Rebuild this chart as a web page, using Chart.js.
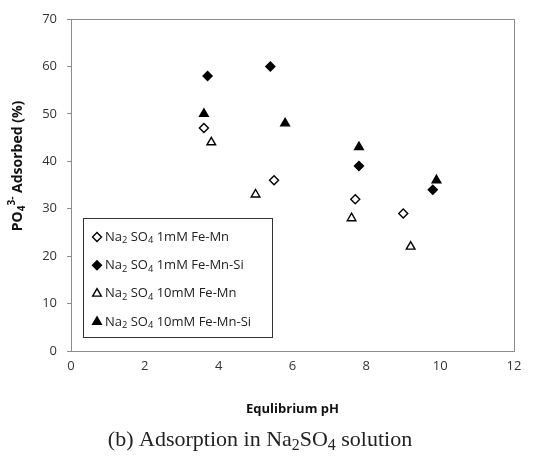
<!DOCTYPE html>
<html>
<head>
<meta charset="utf-8">
<script src="https://cdn.jsdelivr.net/npm/chart.js@4/dist/chart.umd.min.js"></script>
<style>
html,body{margin:0;padding:0;background:#fff;}
#wrap{width:533px;height:463px;position:relative;}
</style>
</head>
<body>
<div id="wrap"><canvas id="c" width="533" height="463"></canvas></div>
<script>
// series names (shown after "Na2 SO4" in the legend)
const seriesNames=['1mM Fe-Mn','1mM Fe-Mn-Si','10mM Fe-Mn','10mM Fe-Mn-Si']
// equilibrium pH (x) and PO4 adsorbed % (y) for each series
const phFeMn1=[3.6,5.5,7.7,9.0]
const adsFeMn1=[47,36,32,29]
const phFeMnSi1=[3.7,5.4,7.8,9.8]
const adsFeMnSi1=[58,60,39,34]
const phFeMn10=[3.8,5.0,7.6,9.2]
const adsFeMn10=[44,33,28,22]
const phFeMnSi10=[3.6,5.8,7.8,9.9]
const adsFeMnSi10=[50,48,43,36]
const xTicks=[0,2,4,6,8,10,12]
const yTicks=[0,10,20,30,40,50,60,70]

const markers=[
  {style:'rectRot',fill:'#fff'},
  {style:'rectRot',fill:'#000'},
  {style:'triangle',fill:'#fff'},
  {style:'triangle',fill:'#000'}
]
const pairs=[[phFeMn1,adsFeMn1],[phFeMnSi1,adsFeMnSi1],[phFeMn10,adsFeMn10],[phFeMnSi10,adsFeMnSi10]]

const datasets=pairs.map((p,i)=>({
  label:'Na2SO4 '+seriesNames[i],
  data:p[0].map((x,j)=>({x:x,y:p[1][j]})),
  pointStyle:markers[i].style,
  backgroundColor:markers[i].fill,
  borderColor:'#000',
  borderWidth:1.4,
  pointRadius:markers[i].style=='triangle'?5:4.5,
  showLine:false
}))

// draws text pieces, some as sub/superscript
function drawRich(ctx,parts,x,y,size,weight,family){
  let cx=x
  parts.forEach(p=>{
    let s=size,dy=0
    if(p.sub){s=size*0.72;dy=size*0.28}
    if(p.sup){s=size*0.72;dy=-size*0.42}
    ctx.font=weight+' '+s+'px '+family
    ctx.fillText(p.t,cx,y+dy)
    cx+=ctx.measureText(p.t).width
  })
  return cx-x
}
function richWidth(ctx,parts,size,weight,family){
  let w=0
  parts.forEach(p=>{
    let s=(p.sub||p.sup)?size*0.72:size
    ctx.font=weight+' '+s+'px '+family
    w+=ctx.measureText(p.t).width
  })
  return w
}

function drawMarker(ctx,m,x,y){
  ctx.save()
  ctx.beginPath()
  if(m.style=='rectRot'){
    let r=4.5
    ctx.moveTo(x,y-r);ctx.lineTo(x+r,y);ctx.lineTo(x,y+r);ctx.lineTo(x-r,y)
  }else{
    let r=5
    ctx.moveTo(x,y-r);ctx.lineTo(x+r*0.87,y+r*0.5);ctx.lineTo(x-r*0.87,y+r*0.5)
  }
  ctx.closePath()
  ctx.fillStyle=m.fill;ctx.fill()
  ctx.lineWidth=1.4;ctx.strokeStyle='#000';ctx.stroke()
  ctx.restore()
}

const extras={
  id:'extras',
  afterDraw(chart){
    const ctx=chart.ctx,a=chart.chartArea
    const fam='"Open Sans", sans-serif'
    ctx.save()
    // plot border
    ctx.strokeStyle='#8c8c8c';ctx.lineWidth=1
    ctx.strokeRect(a.left+0.5,a.top+0.5,a.right-a.left,a.bottom-a.top)
    // legend box
    const lx=a.left+12,ly=a.top+199,lw=189,lh=119
    ctx.fillStyle='#fff';ctx.fillRect(lx,ly,lw,lh)
    ctx.strokeStyle='#333';ctx.strokeRect(lx+0.5,ly+0.5,lw,lh)
    ctx.fillStyle='#222';ctx.textBaseline='middle';ctx.textAlign='left'
    seriesNames.forEach((n,i)=>{
      const yy=ly+19+i*28.3
      drawMarker(ctx,markers[i],lx+14,yy)
      drawRich(ctx,[{t:'Na'},{t:'2',sub:true},{t:' SO'},{t:'4',sub:true},{t:' '+n}],lx+22,yy,13,'normal',fam)
    })
    // x title
    ctx.fillStyle='#111';ctx.textBaseline='middle'
    ctx.font='bold 13px '+fam
    ctx.textAlign='center'
    ctx.fillText('Equlibrium pH',(a.left+a.right)/2,409)
    // y title
    ctx.save()
    ctx.translate(18,166)
    ctx.rotate(-Math.PI/2)
    ctx.textAlign='left'
    const yp=[{t:'PO'},{t:'4',sub:true},{t:'3-',sup:true},{t:' Adsorbed (%)'}]
    const w=richWidth(ctx,yp,14,'bold',fam)
    drawRich(ctx,yp,-w/2,0,14,'bold',fam)
    ctx.restore()
    // caption
    ctx.fillStyle='#222';ctx.textAlign='left'
    const cp=[{t:'(b) Adsorption in Na'},{t:'2',sub:true},{t:'SO'},{t:'4',sub:true},{t:' solution'}]
    const sf='"Liberation Serif", serif'
    const cw=richWidth(ctx,cp,22,'normal',sf)
    drawRich(ctx,cp,260-cw/2,440,22,'normal',sf)
    ctx.restore()
  }
}

new Chart(document.getElementById('c'),{
  type:'scatter',
  data:{datasets:datasets},
  options:{
    responsive:false,
    animation:false,
    layout:{padding:{left:0,top:19,right:19,bottom:82}},
    plugins:{legend:{display:false},tooltip:{enabled:false}},
    scales:{
      x:{
        min:0,max:12,
        afterBuildTicks(s){s.ticks=xTicks.map(v=>({value:v}))},
        afterFit(s){s.height=30},
        grid:{display:false,drawOnChartArea:false,drawTicks:true,tickLength:4,color:'#8c8c8c'},
        border:{display:true,color:'#8c8c8c'},
        ticks:{color:'#333',font:{family:'"Open Sans", sans-serif',size:13},padding:3,maxRotation:0}
      },
      y:{
        min:0,max:70,
        afterBuildTicks(s){s.ticks=yTicks.map(v=>({value:v}))},
        afterFit(s){s.width=71},
        grid:{display:true,drawOnChartArea:false,drawTicks:true,tickLength:4,color:'#8c8c8c'},
        border:{display:true,color:'#8c8c8c'},
        ticks:{color:'#333',font:{family:'"Open Sans", sans-serif',size:13},padding:10}
      }
    }
  },
  plugins:[extras]
})
</script>
</body>
</html>
